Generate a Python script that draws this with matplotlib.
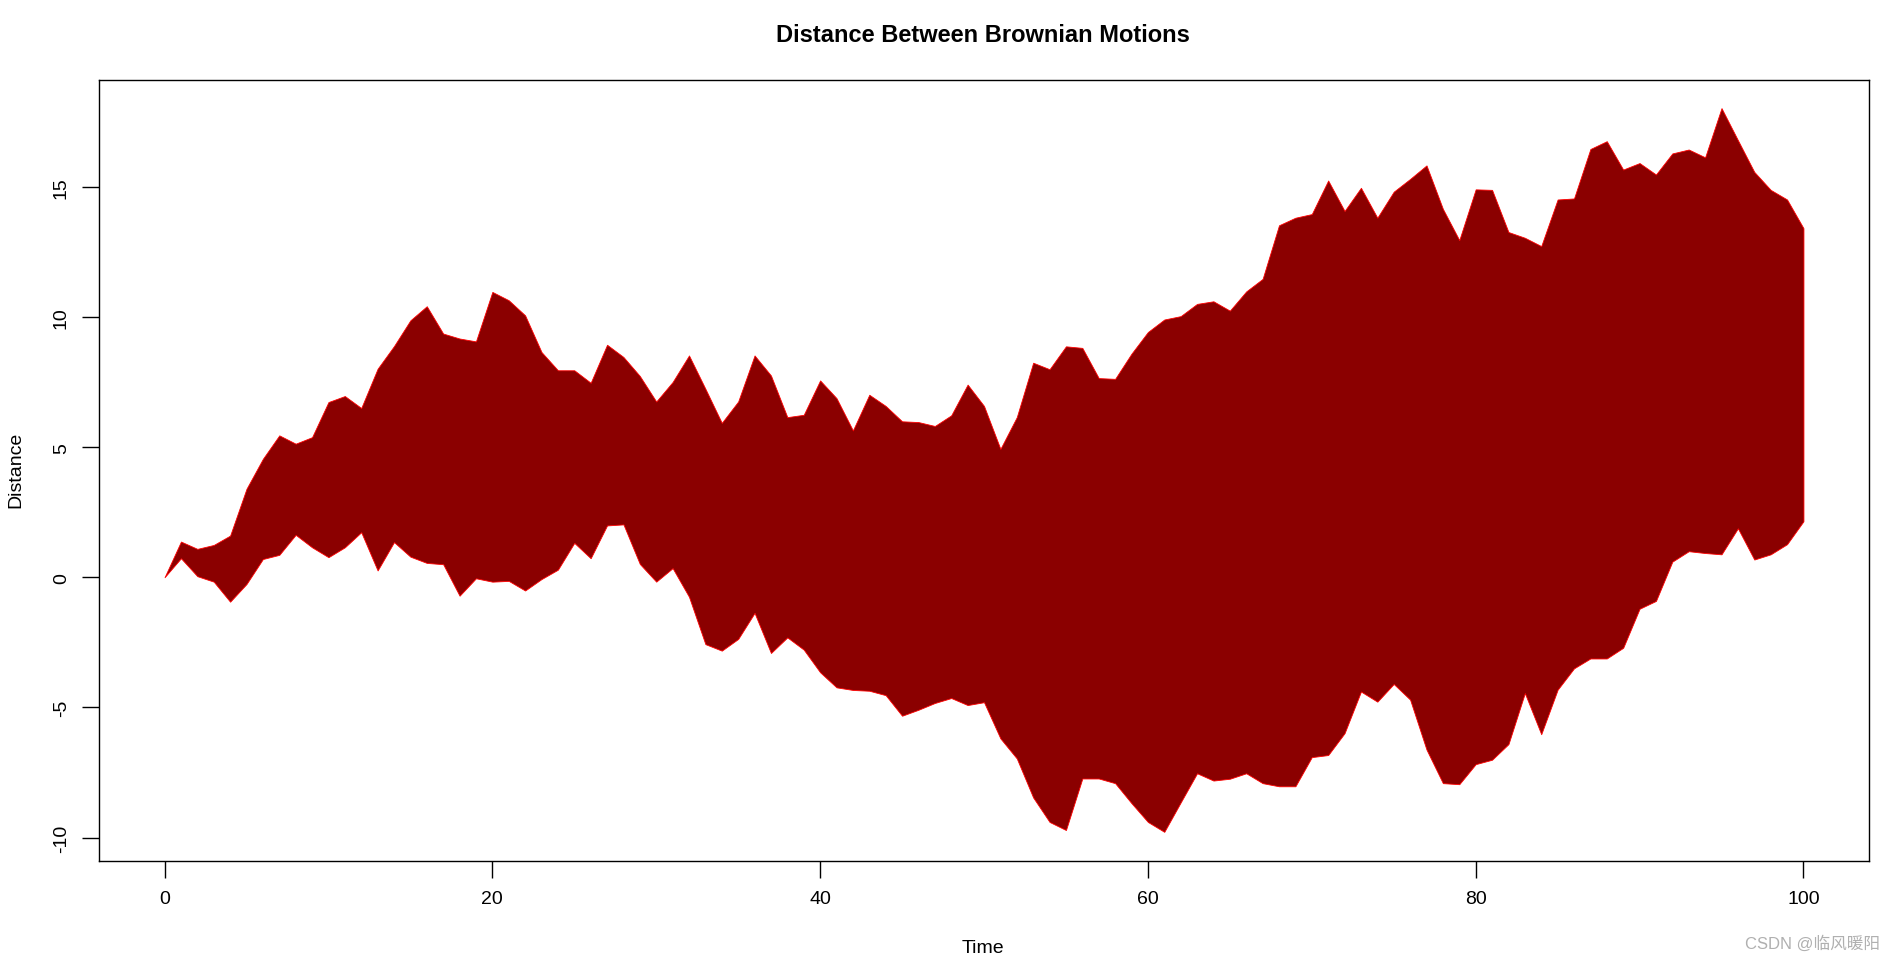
import numpy as np
import matplotlib
matplotlib.use("Agg")
import matplotlib.pyplot as plt

plt.rcParams['font.family'] = ['Liberation Sans', 'Noto Sans CJK SC', 'DejaVu Sans']

# Brownian motion envelopes
time = np.arange(0, 101)
upper = [0, 1.37, 1.09, 1.24, 1.6, 3.4, 4.55, 5.45, 5.13, 5.38,
         6.73, 6.96, 6.5, 8.01, 8.88, 9.87, 10.41, 9.36, 9.17, 9.06,
         10.96, 10.64, 10.06, 8.65, 7.95, 7.95, 7.47, 8.93, 8.46, 7.73,
         6.75, 7.5, 8.52, 7.24, 5.93, 6.75, 8.52, 7.75, 6.15, 6.24,
         7.56, 6.88, 5.64, 7.01, 6.58, 5.99, 5.96, 5.81, 6.22, 7.40,
         6.58, 4.93, 6.15, 8.24, 7.99, 8.87, 8.81, 7.65, 7.62, 8.59,
         9.42, 9.90, 10.03, 10.50, 10.60, 10.24, 10.98, 11.46, 13.52, 13.81,
         13.95, 15.24, 14.07, 14.96, 13.81, 14.81, 15.3, 15.82, 14.15, 12.95,
         14.9, 14.88, 13.26, 13.04, 12.72, 14.51, 14.55, 16.45, 16.75, 15.66,
         15.91, 15.47, 16.28, 16.43, 16.13, 18.02, 16.79, 15.57, 14.88, 14.51,
         13.41]
lower = [0, 0.73, 0.04, -0.17, -0.94, -0.26, 0.70, 0.86, 1.63, 1.15,
         0.77, 1.15, 1.73, 0.26, 1.35, 0.79, 0.55, 0.50, -0.71, -0.04,
         -0.17, -0.14, -0.51, -0.07, 0.29, 1.32, 0.73, 1.99, 2.03, 0.51,
         -0.17, 0.35, -0.75, -2.57, -2.82, -2.37, -1.37, -2.91, -2.31, -2.78,
         -3.65, -4.23, -4.33, -4.36, -4.53, -5.32, -5.09, -4.83, -4.64, -4.91,
         -4.8, -6.19, -6.96, -8.46, -9.40, -9.71, -7.73, -7.73, -7.91, -8.68,
         -9.40, -9.78, -8.65, -7.53, -7.81, -7.74, -7.53, -7.91, -8.03, -8.03,
         -6.91, -6.83, -5.99, -4.39, -4.78, -4.10, -4.70, -6.62, -7.91, -7.95,
         -7.18, -7.01, -6.41, -4.45, -6.03, -4.32, -3.5, -3.12, -3.12, -2.71,
         -1.21, -0.91, 0.60, 1.0, 0.93, 0.88, 1.88, 0.68, 0.88, 1.27,
         2.15]

xticks = [0, 20, 40, 60, 80, 100]
yticks = [-10, -5, 0, 5, 10, 15]

W, H = 1893, 962
fig = plt.figure(figsize=(W / 100, H / 100), dpi=100)
ax = fig.add_axes([99 / W, 1 - 862 / H, (1869 - 99) / W, (862 - 81) / H])

ax.fill_between(time, lower, upper, facecolor='darkred', edgecolor='red', linewidth=0.6)

# R-style 4% padding
ax.set_xlim(-4, 104)
ax.set_ylim(-10.9, 19.1)
ax.set_xticks(xticks)
ax.set_yticks(yticks)
ax.set_yticklabels([str(v) for v in yticks], rotation=90, va='center')
ax.tick_params(direction='out', length=12, width=1, labelsize=14, color='black')
ax.tick_params(axis='x', pad=9)
ax.tick_params(axis='y', pad=9)
for s in ax.spines.values():
    s.set_linewidth(1)

fig.text(983 / W, 1 - 36 / H, "Distance Between Brownian Motions",
         ha='center', va='center', fontsize=17, fontweight='bold')
fig.text(983 / W, 1 - 949 / H, "Time", ha='center', va='center', fontsize=14)
fig.text(16 / W, 1 - 470 / H, "Distance", ha='center', va='center',
         rotation=90, fontsize=14)
fig.text(1880 / W, 1 - 944 / H, "CSDN @临风暖阳", ha='right', va='center',
         fontsize=12, color='#b0b0b0')

fig.savefig("out.png", dpi=100)
